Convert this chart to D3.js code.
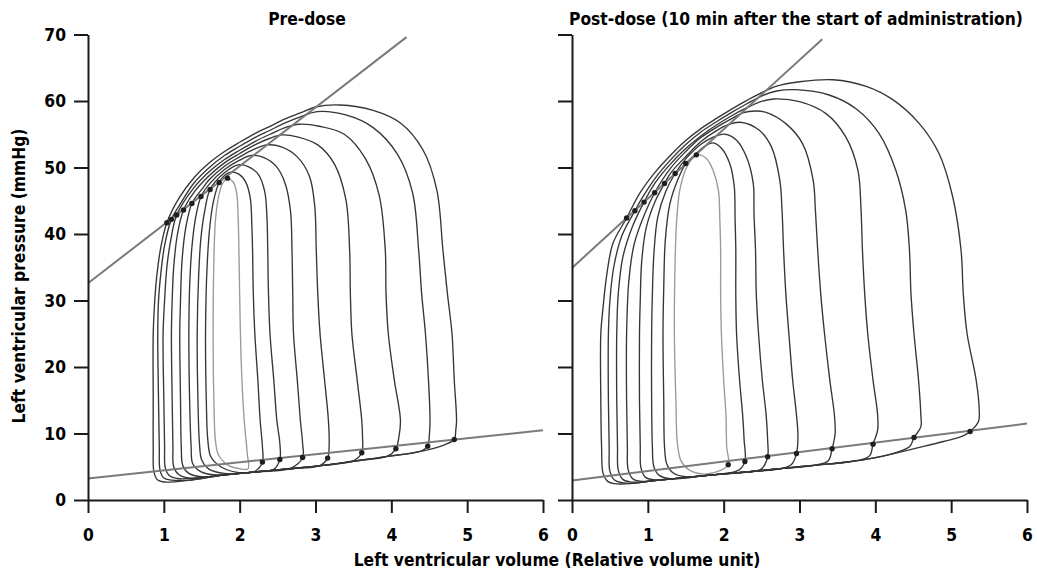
<!DOCTYPE html>
<html><head><meta charset="utf-8">
<script src="https://cdn.jsdelivr.net/npm/d3@7"></script>
<style>
body{margin:0;background:#fff}
svg text{font-family:"DejaVu Sans",Verdana,sans-serif;font-weight:bold;fill:#000}
</style>
</head><body>
<svg id="c" width="1037" height="577"></svg>
<script>
// ---------------- data ----------------
const xTicks = [0,1,2,3,4,5,6];
const yTicks = [0,10,20,30,40,50,60,70];
const panelTitles = ["Pre-dose","Post-dose (10 min after the start of administration)"];
const xTitle = "Left ventricular volume (Relative volume unit)";
const yTitle = "Left ventricular pressure (mmHg)";

// end-systolic / end-diastolic pressure-volume relation lines [volume, pressure]
const preESPVR  = [[0,32.6],[4.2,69.6]];
const preEDPVR  = [[0,3.25],[6,10.5]];
const postESPVR = [[0,34.9],[3.3,69.3]];
const postEDPVR = [[0,2.95],[6,11.5]];

// end-systolic and end-diastolic points
const preES  = [[1.04,41.7],[1.10,42.2],[1.17,42.85],[1.26,43.6],[1.37,44.6],[1.49,45.65],[1.61,46.7],[1.73,47.75],[1.84,48.4]];
const preED  = [[2.30,5.7],[2.53,6.1],[2.83,6.4],[3.16,6.3],[3.61,7.1],[4.06,7.7],[4.48,8.1],[4.83,9.1]];
const postES = [[0.72,42.4],[0.83,43.5],[0.95,44.8],[1.09,46.2],[1.22,47.6],[1.36,49.1],[1.50,50.6],[1.64,51.9]];
const postED = [[2.06,5.3],[2.28,5.8],[2.58,6.5],[2.96,7.0],[3.43,7.7],[3.97,8.4],[4.51,9.4],[5.25,10.3]];

// pressure-volume loops [volume, pressure], smallest first
const preLoops = [
 [[2.11,4.7],[2.10,7],[2.06,12],[2.03,18],[2.01,25],[2.00,31],[1.99,37.6],[1.98,42.5],[1.96,46.2],[1.91,47.9],[1.83,48.3],[1.77,47.5],[1.72,45.5],[1.68,42],[1.66,36],[1.65,25],[1.66,15],[1.68,9],[1.72,6.8],[1.85,5.2],[2.0,4.7]],
 [[2.30,5.7],[2.30,8],[2.27,12],[2.24,18],[2.20,25],[2.18,31],[2.17,37.6],[2.16,41.5],[2.14,45.4],[2.08,47.8],[1.99,49.0],[1.88,49.3],[1.80,48.8],[1.73,47.75],[1.66,45.2],[1.61,41.5],[1.57,35],[1.55,25],[1.56,15],[1.58,9],[1.62,6.5],[1.75,5.0],[1.95,4.2],[2.2,4.3]],
 [[2.53,6.1],[2.53,8.5],[2.49,12],[2.45,18],[2.40,25],[2.38,31],[2.37,37.6],[2.36,42.5],[2.33,46.4],[2.25,48.9],[2.12,50.1],[1.98,50.4],[1.80,49.2],[1.61,46.7],[1.54,43.5],[1.49,39.5],[1.46,34],[1.44,25],[1.45,15],[1.47,8.5],[1.50,6.0],[1.60,4.6],[1.80,4.0],[2.23,4.25],[2.45,4.6]],
 [[2.83,6.4],[2.83,8.5],[2.80,12],[2.76,18],[2.71,25],[2.70,31],[2.69,37.6],[2.67,43.5],[2.60,47.6],[2.48,50.2],[2.32,51.5],[2.15,51.8],[2.0,51.1],[1.8,49.7],[1.6,47.5],[1.49,45.65],[1.42,42.5],[1.37,38],[1.34,32],[1.33,25],[1.34,15],[1.36,8],[1.38,5.5],[1.48,4.3],[1.65,3.8],[2.23,4.25],[2.66,4.7]],
 [[3.16,6.3],[3.18,8.5],[3.17,12],[3.12,18],[3.06,25],[3.03,31],[3.01,37.6],[2.99,44.2],[2.92,48.7],[2.76,51.6],[2.55,53.1],[2.36,53.4],[2.2,52.8],[2.0,51.6],[1.8,50.2],[1.6,48.2],[1.5,46.7],[1.37,44.6],[1.29,41],[1.24,36],[1.22,30],[1.21,25],[1.22,15],[1.23,8],[1.25,5.2],[1.33,4.0],[1.5,3.5],[1.78,3.75],[2.23,4.25],[2.66,4.7],[3.05,5.15]],
 [[3.61,7.1],[3.62,9.5],[3.61,12],[3.55,18],[3.48,25],[3.46,31],[3.45,37.6],[3.40,45.2],[3.25,50.5],[3.03,53.4],[2.76,54.6],[2.56,54.9],[2.4,54.4],[2.2,53.4],[2.0,52.1],[1.8,50.7],[1.6,48.8],[1.4,46.3],[1.26,43.6],[1.18,40],[1.13,35],[1.11,30],[1.10,25],[1.11,15],[1.12,8],[1.13,5.0],[1.2,3.8],[1.35,3.3],[1.78,3.75],[2.23,4.25],[2.66,4.7],[3.10,5.2],[3.50,5.9]],
 [[4.06,7.7],[4.10,9.5],[4.12,12],[4.04,18],[3.96,25],[3.93,31],[3.92,37.6],[3.84,45.8],[3.66,51.3],[3.38,55.0],[3.05,56.2],[2.78,56.5],[2.6,56.0],[2.4,55.0],[2.2,53.9],[2.0,52.6],[1.8,51.2],[1.6,49.4],[1.4,47.0],[1.17,42.85],[1.09,39],[1.04,35],[1.01,30],[0.99,25],[1.0,15],[1.01,8],[1.02,4.8],[1.08,3.6],[1.2,3.2],[1.78,3.75],[2.23,4.25],[2.66,4.7],[3.10,5.2],[3.54,5.9],[3.95,6.6]],
 [[4.48,8.1],[4.50,9.5],[4.51,12],[4.49,18],[4.45,25],[4.40,31],[4.36,37.6],[4.28,46.2],[4.08,52.0],[3.76,56.0],[3.40,57.9],[3.02,58.4],[2.8,57.6],[2.6,56.7],[2.4,55.6],[2.2,54.5],[2.0,53.2],[1.8,51.8],[1.6,50.0],[1.4,47.7],[1.2,44.2],[1.10,42.2],[1.01,38.3],[0.96,34],[0.93,30],[0.92,25],[0.93,15],[0.94,8],[0.95,4.5],[1.0,3.3],[1.1,3.0],[1.35,3.0],[1.78,3.75],[2.23,4.25],[2.66,4.7],[3.10,5.2],[3.54,5.9],[3.98,6.6],[4.40,7.4]],
 [[4.83,9.1],[4.85,10.5],[4.86,12],[4.83,18],[4.80,25],[4.74,31],[4.68,37.6],[4.60,46.6],[4.42,52.6],[4.12,56.7],[3.76,58.6],[3.32,59.4],[3.0,59.1],[2.8,58.2],[2.6,57.3],[2.4,56.2],[2.2,55.1],[2.0,53.8],[1.8,52.4],[1.6,50.7],[1.4,48.5],[1.2,45.4],[1.04,41.7],[0.96,38],[0.91,34],[0.88,30],[0.86,25],[0.86,15],[0.86,8],[0.87,4.2],[0.92,3.0],[1.0,2.7],[1.35,3.0],[1.78,3.75],[2.23,4.25],[2.66,4.7],[3.10,5.2],[3.54,5.9],[3.98,6.6],[4.42,7.4],[4.70,8.3]]
];

const postLoops = [
 [[2.06,5.3],[2.04,8],[2.03,12.8],[2.00,18],[1.97,25],[1.96,31],[1.96,37.6],[1.95,42],[1.93,46.6],[1.86,49.6],[1.77,51.4],[1.68,51.9],[1.60,51.5],[1.50,49.7],[1.42,46.5],[1.38,42],[1.36,36],[1.35,25],[1.37,15],[1.39,8.5],[1.44,5.8],[1.55,4.5],[1.75,3.9],[1.95,4.4]],
 [[2.28,5.8],[2.27,9],[2.25,12.8],[2.21,18],[2.17,25],[2.16,31],[2.16,37.6],[2.15,42.5],[2.14,47.1],[2.08,50.6],[1.97,52.9],[1.86,53.7],[1.74,53.1],[1.62,51.9],[1.50,50.55],[1.40,48.3],[1.29,44.5],[1.23,39],[1.21,32],[1.20,25],[1.21,15],[1.22,8],[1.25,5.4],[1.33,4.1],[1.5,3.5],[1.82,3.75],[2.2,4.5]],
 [[2.58,6.5],[2.58,9],[2.56,12.8],[2.51,18],[2.46,25],[2.43,31],[2.42,37.6],[2.40,43],[2.39,47.6],[2.30,51.6],[2.17,54.1],[2.02,55.0],[1.85,54.5],[1.70,53.5],[1.50,51.3],[1.36,49.1],[1.24,46.5],[1.13,42.5],[1.08,37],[1.06,31],[1.05,25],[1.05,15],[1.06,8],[1.08,5.0],[1.15,3.7],[1.3,3.2],[1.82,3.75],[2.34,4.25],[2.5,4.7]],
 [[2.96,7.0],[2.98,9.5],[2.96,12.8],[2.91,18],[2.86,25],[2.82,31],[2.79,37.6],[2.77,43.5],[2.74,48.1],[2.63,53.1],[2.47,55.6],[2.22,56.8],[2.05,56.4],[1.9,55.5],[1.7,53.9],[1.5,51.65],[1.3,49.15],[1.22,47.6],[1.10,45.0],[0.98,41.0],[0.92,36],[0.90,30],[0.89,25],[0.89,15],[0.90,8],[0.91,4.8],[0.97,3.4],[1.1,3.0],[1.38,3.25],[1.82,3.75],[2.34,4.25],[2.78,4.75],[2.9,5.4]],
 [[3.43,7.7],[3.47,10],[3.46,12.8],[3.40,18],[3.33,25],[3.28,31],[3.24,37.6],[3.21,43.5],[3.18,48.1],[3.04,53.6],[2.82,56.6],[2.56,58.3],[2.42,58.5],[2.25,58.2],[2.1,57.3],[1.9,56.0],[1.7,54.5],[1.5,52.4],[1.3,49.9],[1.09,46.2],[0.95,42.8],[0.82,38.5],[0.75,33],[0.72,25],[0.72,15],[0.73,8],[0.74,4.6],[0.80,3.2],[0.92,2.8],[1.03,2.85],[1.38,3.25],[1.82,3.75],[2.34,4.25],[2.78,4.75],[3.22,5.25],[3.38,5.9]],
 [[3.97,8.4],[4.03,10.5],[4.03,12.8],[3.97,18],[3.90,25],[3.86,31],[3.83,37.6],[3.81,44],[3.77,49.6],[3.61,54.6],[3.35,58.1],[3.0,59.9],[2.66,60.3],[2.5,59.95],[2.3,58.95],[2.1,57.75],[1.9,56.35],[1.7,54.75],[1.5,52.85],[1.3,50.55],[1.1,47.75],[0.95,44.8],[0.80,41.2],[0.67,36.5],[0.61,31],[0.59,25],[0.59,15],[0.60,8],[0.61,4.5],[0.67,3.1],[0.78,2.7],[1.03,2.85],[1.38,3.25],[1.82,3.75],[2.34,4.25],[2.78,4.75],[3.22,5.25],[3.66,5.75],[3.92,6.6]],
 [[4.51,9.4],[4.60,11],[4.60,12.8],[4.57,18],[4.51,25],[4.47,31],[4.45,37.6],[4.40,43.6],[4.27,49.6],[4.05,55.1],[3.75,58.8],[3.39,60.9],[2.95,61.7],[2.7,61.5],[2.5,60.75],[2.3,59.55],[2.1,58.25],[1.9,56.85],[1.7,55.35],[1.5,53.45],[1.3,51.15],[1.1,48.45],[0.9,44.95],[0.83,43.5],[0.66,39.8],[0.55,35],[0.50,30],[0.48,25],[0.48,15],[0.49,8],[0.50,4.3],[0.56,3.0],[0.66,2.6],[0.81,2.5],[1.03,2.85],[1.38,3.25],[1.82,3.75],[2.34,4.25],[2.78,4.75],[3.22,5.25],[3.66,5.75],[4.10,6.6],[4.45,8.0]],
 [[5.25,10.3],[5.36,11.8],[5.37,13.5],[5.33,18],[5.21,25],[5.16,31],[5.13,37.6],[5.02,45.6],[4.84,52.1],[4.58,56.6],[4.23,60.2],[3.88,62.2],[3.44,63.2],[3.0,62.9],[2.7,62.25],[2.5,61.25],[2.3,60.05],[2.1,58.75],[1.9,57.35],[1.7,55.85],[1.5,54.05],[1.3,51.85],[1.1,49.35],[0.9,46.25],[0.72,42.4],[0.54,38.6],[0.46,34],[0.41,29],[0.38,25],[0.38,15],[0.39,8],[0.41,4.0],[0.47,2.8],[0.56,2.45],[0.81,2.5],[1.03,2.85],[1.38,3.25],[1.82,3.75],[2.34,4.25],[2.78,4.75],[3.22,5.25],[3.66,5.75],[4.10,6.6],[4.54,7.8],[4.9,8.8],[5.15,9.6]]
];

// ---------------- drawing ----------------
const svg = d3.select("#c");
const y = d3.scaleLinear().domain([0,70]).range([500,34.5]);
const CONDENSE = 0.865;
function condense(sel){
  sel.each(function(){
    const L = this.getComputedTextLength();
    if (L > 0) d3.select(this).attr("textLength", L*CONDENSE).attr("lengthAdjust","spacingAndGlyphs");
  });
}
// big labels: condensed by a horizontal scale so their boxes stay true
function label(transform, txt){
  return svg.append("text").attr("transform", transform + ` scale(${CONDENSE},1)`)
    .attr("text-anchor","middle").attr("font-size",18).text(txt);
}

const panels = [
  {x: d3.scaleLinear().domain([0,6]).range([88,543]),  loops: preLoops,  es: preES,  ed: preED,  espvr: preESPVR,  edpvr: preEDPVR,  title: panelTitles[0], titleX: 307, labels: true},
  {x: d3.scaleLinear().domain([0,6]).range([572,1027]), loops: postLoops, es: postES, ed: postED, espvr: postESPVR, edpvr: postEDPVR, title: panelTitles[1], titleX: 796, labels: false}
];

panels.forEach(p => {
  const g = svg.append("g");
  const line = d3.line().x(d => p.x(d[0])).y(d => y(d[1]));
  const loopLine = d3.line().x(d => p.x(d[0])).y(d => y(d[1])).curve(d3.curveCatmullRomClosed.alpha(0.5));

  g.selectAll("path.loop").data(p.loops).join("path")
    .attr("class","loop")
    .attr("d", loopLine)
    .attr("fill","none")
    .attr("stroke", (d,i) => i === 0 ? "#999" : "#363636")
    .attr("stroke-width", 1.35)
    .attr("stroke-linejoin","round");

  [p.espvr, p.edpvr].forEach(l => {
    g.append("path").attr("d", line(l)).attr("fill","none")
      .attr("stroke","#7a7a7a").attr("stroke-width",2);
  });

  g.selectAll("circle.pt").data(p.es.concat(p.ed)).join("circle")
    .attr("class","pt")
    .attr("cx", d => p.x(d[0])).attr("cy", d => y(d[1]))
    .attr("r", 2.7).attr("fill","#1e1e1e");

  const ay = d3.axisLeft(y).tickValues(yTicks).tickSize(14).tickPadding(8).tickSizeOuter(0);
  if (!p.labels) ay.tickFormat("");
  const gy = svg.append("g").attr("transform", `translate(${p.x(0)},0)`).call(ay);
  const ax = d3.axisBottom(p.x).tickValues(xTicks).tickSize(13).tickPadding(15).tickSizeOuter(0).tickFormat(d3.format("d"));
  const gx = svg.append("g").attr("transform", `translate(0,${y(0)})`).call(ax);
  [gx, gy].forEach(a => {
    a.attr("font-size",18).attr("font-family","DejaVu Sans, Verdana, sans-serif").attr("font-weight","bold");
    a.selectAll(".domain, .tick line").attr("stroke","#1a1a1a").attr("stroke-width",2);
    a.selectAll("text").attr("fill","#000");
    condense(a.selectAll("text"));
  });

  label(`translate(${p.titleX},25)`, p.title);
});

label("translate(557,566)", xTitle);
label("translate(25,276) rotate(-90)", yTitle);
</script>
</body></html>
